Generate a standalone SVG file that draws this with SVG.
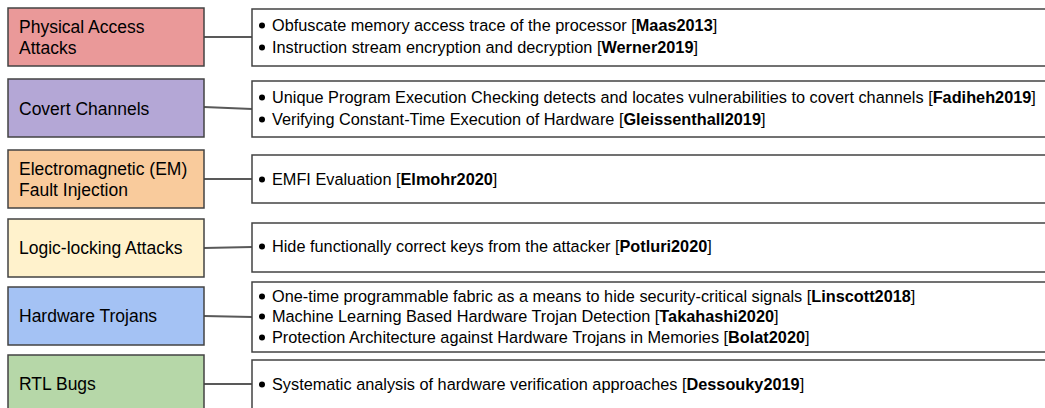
<svg xmlns="http://www.w3.org/2000/svg" width="1045" height="408" viewBox="0 0 1045 408">
  <style>
    .cat { stroke: #434343; stroke-width: 1.5; }
    .box { fill: #ffffff; stroke: #434343; stroke-width: 1.5; }
    .lbl { font-family: "Liberation Sans", Arial, sans-serif; font-size: 17.5px; fill: #000; }
    .item { font-family: "Liberation Sans", Arial, sans-serif; font-size: 16.3px; fill: #000; }
    .b { font-weight: bold; }
    .dot { fill: #000; }
    .link { stroke: #595959; stroke-width: 2; fill: none; }
  </style>
  <rect width="1045" height="408" fill="#ffffff"/>

  <!-- connectors between category and item boxes -->
  <g id="connectors">
    <line class="link" x1="204" y1="37" x2="252" y2="37"/>
    <line class="link" x1="204" y1="107" x2="252" y2="109"/>
    <line class="link" x1="204" y1="179" x2="252" y2="179"/>
    <line class="link" x1="204" y1="248" x2="252" y2="247"/>
    <line class="link" x1="204" y1="316" x2="252" y2="317"/>
    <line class="link" x1="204" y1="384" x2="252" y2="384"/>
  </g>

  <g id="physical-access">
    <rect class="cat" x="8" y="8" width="196" height="58" fill="#ea9999"/>
    <text class="lbl" x="19" y="33">Physical Access</text>
    <text class="lbl" x="19" y="54">Attacks</text>
  </g>
  <g id="physical-access-items">
    <rect class="box" x="252" y="9" width="800" height="57"/>
    <circle class="dot" cx="262" cy="25.5" r="3"/>
    <text class="item" x="272" y="31">Obfuscate memory access trace of the processor [<tspan class="b">Maas2013</tspan>]</text>
    <circle class="dot" cx="262" cy="47.5" r="3"/>
    <text class="item" x="272" y="53">Instruction stream encryption and decryption [<tspan class="b">Werner2019</tspan>]</text>
  </g>

  <g id="covert-channels">
    <rect class="cat" x="8" y="79" width="196" height="58" fill="#b4a7d6"/>
    <text class="lbl" x="19" y="115">Covert Channels</text>
  </g>
  <g id="covert-channels-items">
    <rect class="box" x="252" y="81" width="800" height="56"/>
    <circle class="dot" cx="262" cy="97.5" r="3"/>
    <text class="item" x="272" y="103">Unique Program Execution Checking detects and locates vulnerabilities to covert channels [<tspan class="b">Fadiheh2019</tspan>]</text>
    <circle class="dot" cx="262" cy="119.5" r="3"/>
    <text class="item" x="272" y="125">Verifying Constant-Time Execution of Hardware [<tspan class="b">Gleissenthall2019</tspan>]</text>
  </g>

  <g id="em-fault-injection">
    <rect class="cat" x="8" y="150" width="196" height="58" fill="#f9cb9c"/>
    <text class="lbl" x="19" y="175">Electromagnetic (EM)</text>
    <text class="lbl" x="19" y="196">Fault Injection</text>
  </g>
  <g id="em-fault-injection-items">
    <rect class="box" x="252" y="155" width="800" height="48"/>
    <circle class="dot" cx="262" cy="179.5" r="3"/>
    <text class="item" x="272" y="185">EMFI Evaluation [<tspan class="b">Elmohr2020</tspan>]</text>
  </g>

  <g id="logic-locking">
    <rect class="cat" x="8" y="219" width="196" height="58" fill="#fff2cc"/>
    <text class="lbl" x="19" y="254">Logic-locking Attacks</text>
  </g>
  <g id="logic-locking-items">
    <rect class="box" x="252" y="223" width="800" height="49"/>
    <circle class="dot" cx="262" cy="246.5" r="3"/>
    <text class="item" x="272" y="252">Hide functionally correct keys from the attacker [<tspan class="b">Potluri2020</tspan>]</text>
  </g>

  <g id="hardware-trojans">
    <rect class="cat" x="8" y="287" width="196" height="58" fill="#a4c2f4"/>
    <text class="lbl" x="19" y="322">Hardware Trojans</text>
  </g>
  <g id="hardware-trojans-items">
    <rect class="box" x="252" y="282" width="800" height="70"/>
    <circle class="dot" cx="262" cy="296.5" r="3"/>
    <text class="item" x="272" y="302">One-time programmable fabric as a means to hide security-critical signals [<tspan class="b">Linscott2018</tspan>]</text>
    <circle class="dot" cx="262" cy="316.5" r="3"/>
    <text class="item" x="272" y="322">Machine Learning Based Hardware Trojan Detection [<tspan class="b">Takahashi2020</tspan>]</text>
    <circle class="dot" cx="262" cy="337.5" r="3"/>
    <text class="item" x="272" y="343">Protection Architecture against Hardware Trojans in Memories [<tspan class="b">Bolat2020</tspan>]</text>
  </g>

  <g id="rtl-bugs">
    <rect class="cat" x="8" y="355" width="196" height="70" fill="#b6d7a8"/>
    <text class="lbl" x="19" y="390">RTL Bugs</text>
  </g>
  <g id="rtl-bugs-items">
    <rect class="box" x="252" y="360" width="800" height="70"/>
    <circle class="dot" cx="262" cy="384.5" r="3"/>
    <text class="item" x="272" y="390">Systematic analysis of hardware verification approaches [<tspan class="b">Dessouky2019</tspan>]</text>
  </g>
</svg>
